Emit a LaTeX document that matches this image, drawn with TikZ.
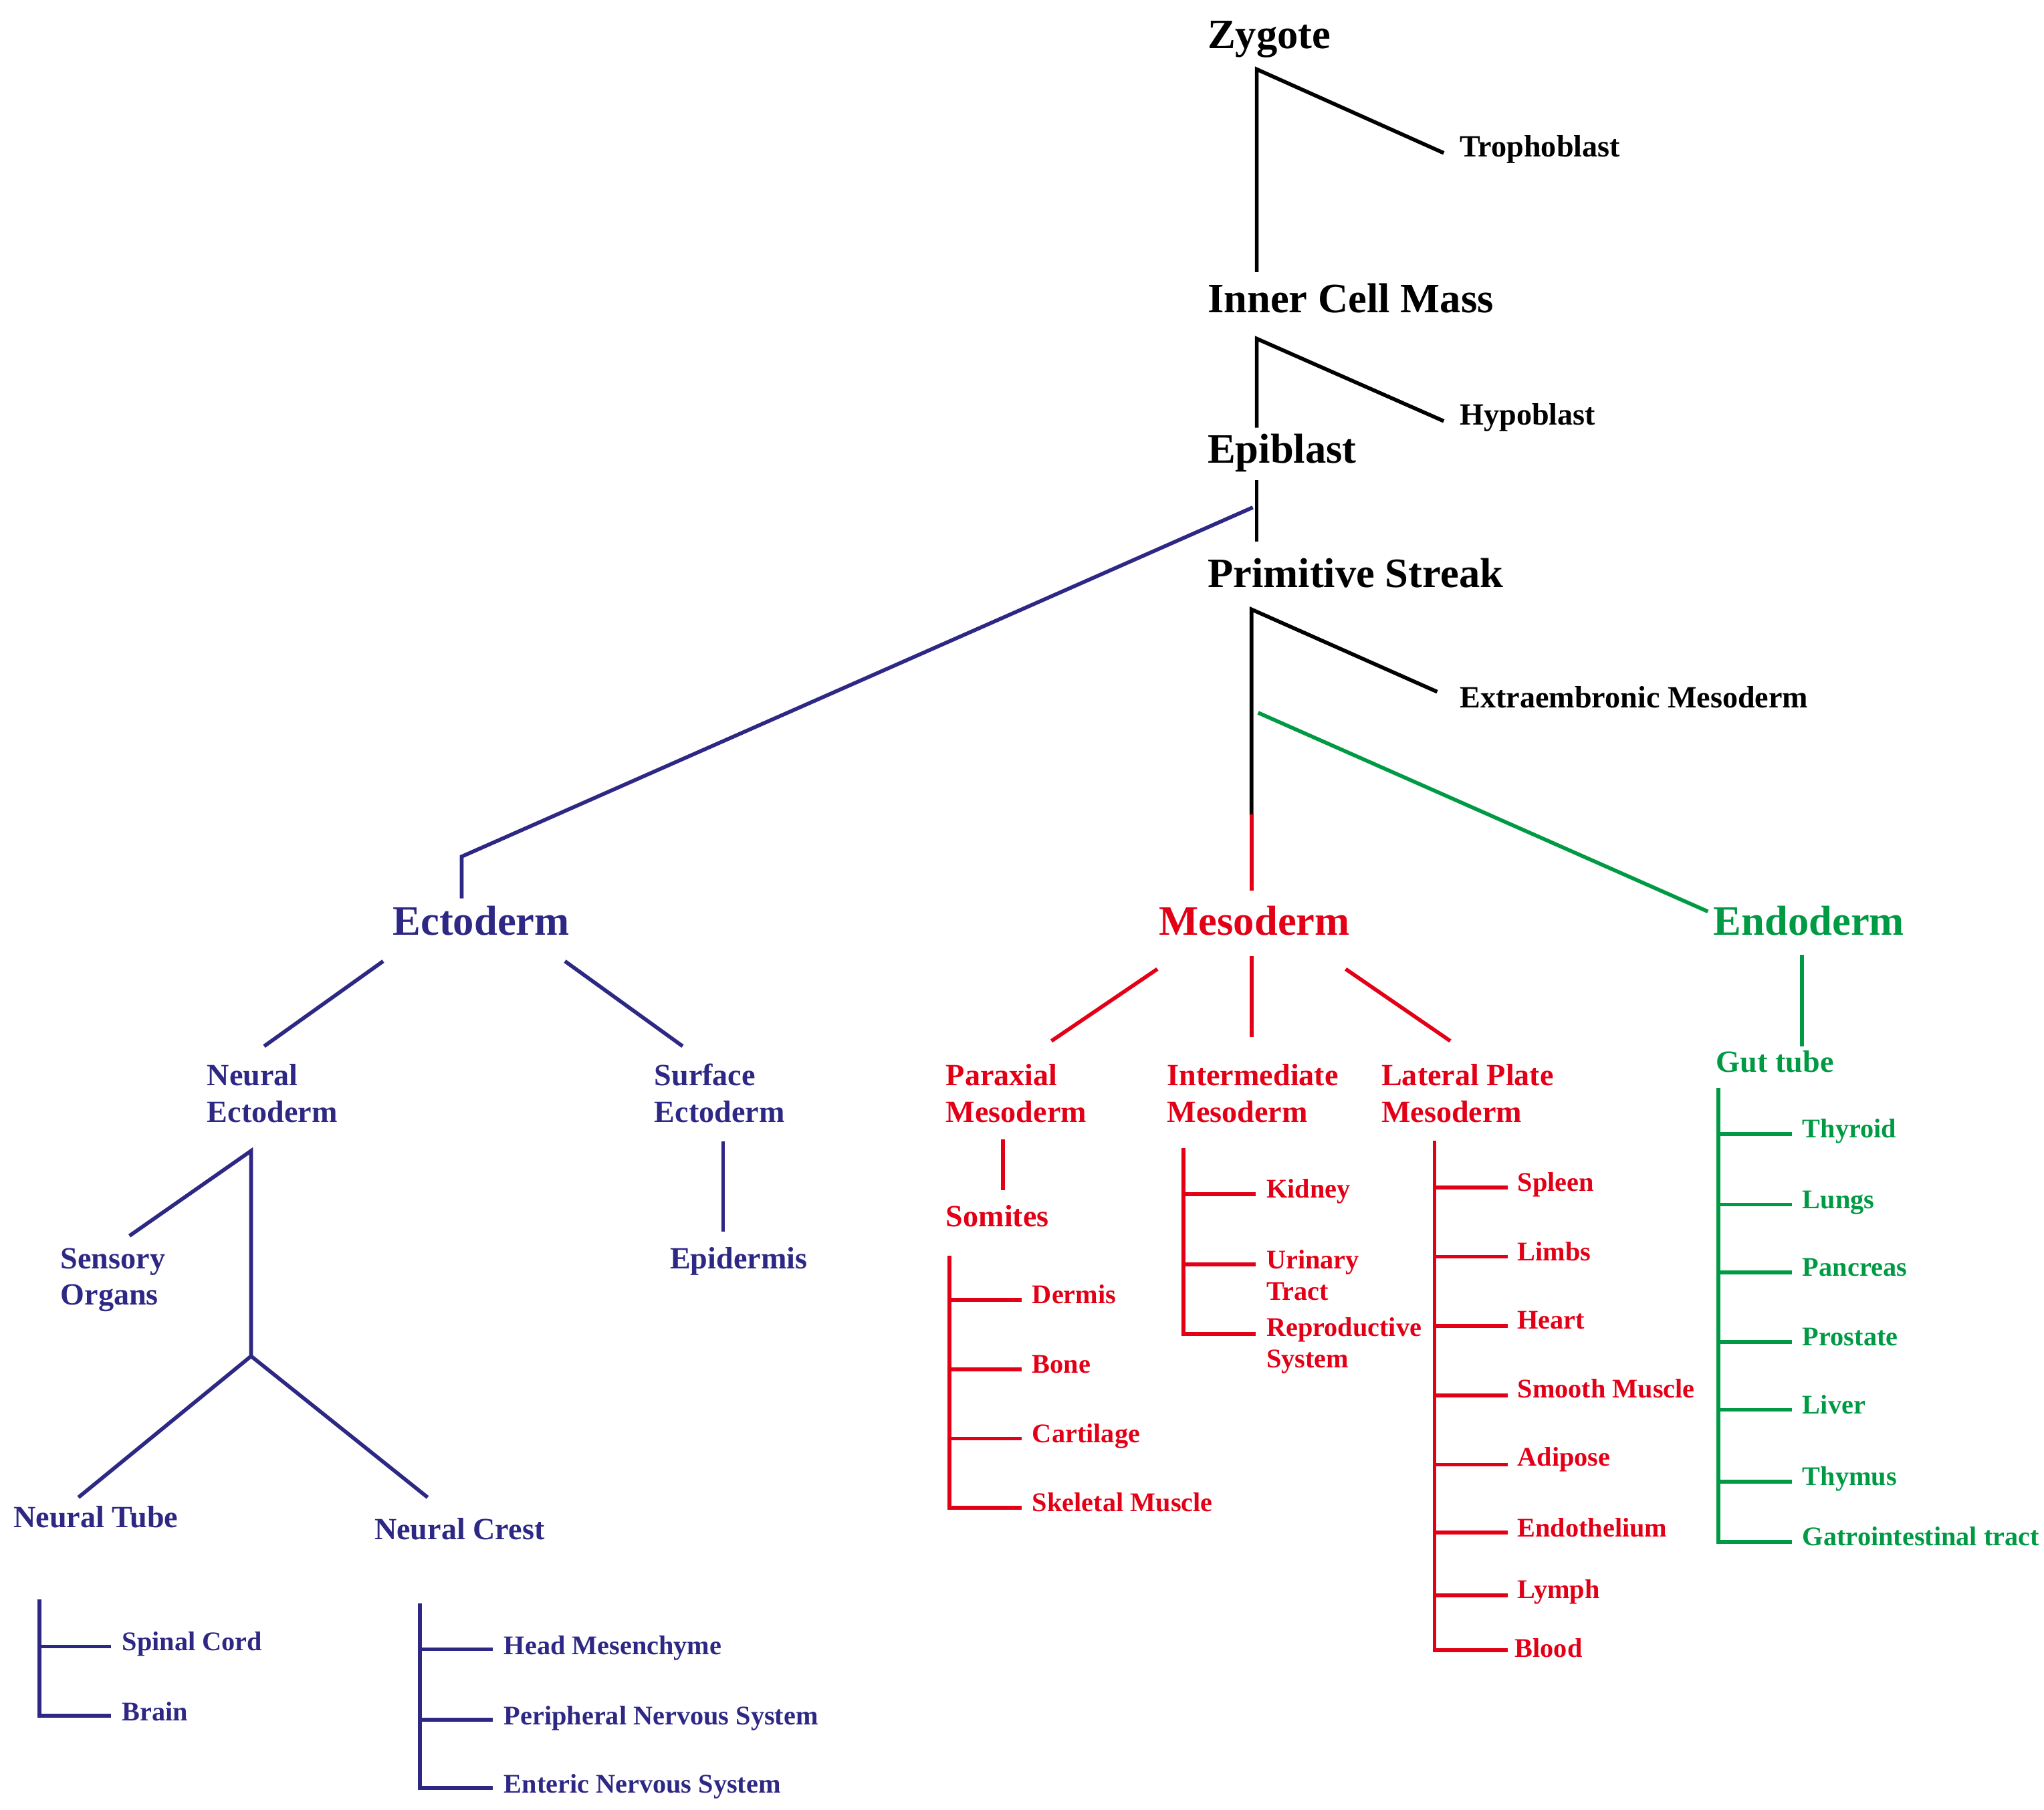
\documentclass[tikz,border=0pt]{standalone}
\usepackage{fontspec}
\setmainfont{Liberation Serif}
\definecolor{ecto}{RGB}{46,40,133}
\definecolor{meso}{RGB}{227,0,22}
\definecolor{endo}{RGB}{0,154,68}
\tikzset{
  lbl/.style={inner sep=0pt, anchor=base west, align=left, yshift=1.5pt, font=\bfseries},
  big/.style={lbl, xshift=-1pt, font=\fontsize{16}{18}\selectfont\bfseries},
  mid/.style={lbl, xshift=-0.5pt, font=\fontsize{11.8}{14}\selectfont\bfseries},
  sml/.style={lbl, font=\fontsize{10.3}{12}\selectfont\bfseries},
  ln/.style={line width=1.45pt},
}
\begin{document}
\begin{tikzpicture}[x=0.5pt,y=-0.5pt]
\useasboundingbox (0,0) rectangle (1563,1384);
% ---------- top (black) ----------
\node[big] (zyg) at (925,40) {Zygote};
\node[mid] (tro) at (1117,123) {Trophoblast};
\node[big] (icm) at (925,242) {Inner Cell Mass};
\node[mid] (hyp) at (1117,328) {Hypoblast};
\node[big] (epi) at (925,357) {Epiblast};
\node[big] (ps) at (925,452) {Primitive Streak};
\node[mid] (exm) at (1117,544) {Extraembronic Mesoderm};
\coordinate (z0) at (961,53);
\coordinate (z1) at (961,208);
\coordinate (zt) at (1104,117);
\coordinate (i0) at (961,259);
\coordinate (i1) at (961,327);
\coordinate (ih) at (1104,322);
\coordinate (e0) at (961,367);
\coordinate (e1) at (961,414);
\coordinate (eb) at (958,388);
\coordinate (p0) at (957,466);
\coordinate (pr) at (957,623);
\coordinate (p1) at (957,681);
\coordinate (px) at (1099,529);
\coordinate (pg) at (962,545);
\draw[ln] (zt) -- (z0) -- (z1);
\draw[ln] (ih) -- (i0) -- (i1);
\draw[ln] (e0) -- (e1);
\draw[ln] (px) -- (p0) -- (pr);
% ---------- Ectoderm ----------
\begin{scope}[ecto]
\node[big] (ect) at (302,718) {Ectoderm};
\node[mid] (nec) at (159,861) {Neural\\Ectoderm};
\node[mid] (sec) at (501,861) {Surface\\Ectoderm};
\node[mid] (epd) at (513,973) {Epidermis};
\node[mid] (sen) at (47,1001) {Sensory\\Organs};
\node[mid] (ntu) at (11,1171) {Neural Tube};
\node[mid] (ncr) at (287,1180) {Neural Crest};
\node[sml] (spc) at (93,1265) {Spinal Cord};
\node[sml] (brn) at (93,1319) {Brain};
\node[sml] (hme) at (385,1268) {Head Mesenchyme};
\node[sml] (pns) at (385,1322) {Peripheral Nervous System};
\node[sml] (ens) at (385,1374) {Enteric Nervous System};
\coordinate (ec0) at (353,655);
\coordinate (ec1) at (353,687);
\coordinate (ecl) at (293,735);
\coordinate (ecr) at (432,735);
\coordinate (nel) at (202,800);
\coordinate (ser) at (522,800);
\coordinate (se0) at (553,873);
\coordinate (se1) at (553,942);
\coordinate (ne0) at (192,880);
\coordinate (ne1) at (192,1037);
\coordinate (so0) at (99,945);
\coordinate (nt0) at (60,1145);
\coordinate (nc0) at (327,1145);
\coordinate (tb0) at (30,1223);
\coordinate (tb1) at (30,1259);
\coordinate (tb2) at (30,1312);
\coordinate (cb0) at (321,1226);
\coordinate (cb1) at (321,1261);
\coordinate (cb2) at (321,1315);
\coordinate (cb3) at (321,1367);
\draw[ln] (eb) -- (ec0) -- (ec1);
\draw[ln] (ecl) -- (nel);
\draw[ln] (ecr) -- (ser);
\draw[ln] (se0) -- (se1);
\draw[ln] (so0) -- (ne0) -- (ne1);
\draw[ln] (nt0) -- (ne1) -- (nc0);
\draw[ln] (tb0) -- (tb2) -- (85,1312);
\draw[ln] (tb1) -- (85,1259);
\draw[ln] (cb0) -- (cb3) -- (377,1367);
\draw[ln] (cb1) -- (377,1261);
\draw[ln] (cb2) -- (377,1315);
\end{scope}
% ---------- Mesoderm ----------
\begin{scope}[meso]
\node[big] (mes) at (888,718) {Mesoderm};
\node[mid] (par) at (724,861) {Paraxial\\Mesoderm};
\node[mid] (int) at (893,861) {Intermediate\\Mesoderm};
\node[mid] (lat) at (1057,861) {Lateral Plate\\Mesoderm};
\node[mid] (som) at (724,941) {Somites};
\node[sml] (der) at (789,1000) {Dermis};
\node[sml] (bon) at (789,1053) {Bone};
\node[sml] (car) at (789,1106) {Cartilage};
\node[sml] (skm) at (789,1159) {Skeletal Muscle};
\node[sml] (kid) at (968,919) {Kidney};
\node[sml] (uri) at (968,997) {Urinary\\Tract};
\node[sml] (rep) at (968,1049) {Reproductive\\System};
\node[sml] (spl) at (1160,914) {Spleen};
\node[sml] (lim) at (1160,967) {Limbs};
\node[sml] (hea) at (1160,1019) {Heart};
\node[sml] (smm) at (1160,1072) {Smooth Muscle};
\node[sml] (adi) at (1160,1124) {Adipose};
\node[sml] (end) at (1160,1178) {Endothelium};
\node[sml] (lym) at (1160,1225) {Lymph};
\node[sml] (blo) at (1158,1270) {Blood};
\draw[ln] (pr) -- (p1);
\draw[ln] (885,741) -- (804,796);
\draw[ln] (957,731) -- (957,793);
\draw[ln] (1029,741) -- (1109,796);
\draw[ln] (767,871) -- (767,910);
\draw[ln] (726,960) -- (726,1153) -- (781,1153);
\foreach \y in {994,1047,1100} \draw[ln] (726,\y) -- (781,\y);
\draw[ln] (905,878) -- (905,1020) -- (960,1020);
\foreach \y in {913,967} \draw[ln] (905,\y) -- (960,\y);
\draw[ln] (1097,872) -- (1097,1262) -- (1153,1262);
\foreach \y in {908,961,1014,1067,1120,1172,1220} \draw[ln] (1097,\y) -- (1153,\y);
\end{scope}
% ---------- Endoderm ----------
\begin{scope}[endo]
\node[big] (edo) at (1312,718) {Endoderm};
\node[mid] (gut) at (1313,823) {Gut tube};
\node[sml] (thy) at (1378,873) {Thyroid};
\node[sml] (lun) at (1378,927) {Lungs};
\node[sml] (pan) at (1378,979) {Pancreas};
\node[sml] (pro) at (1378,1032) {Prostate};
\node[sml] (liv) at (1378,1084) {Liver};
\node[sml] (thm) at (1378,1139) {Thymus};
\node[sml] (git) at (1378,1185) {Gatrointestinal tract};
\draw[ln] (pg) -- (1306,697);
\draw[ln] (1378,730) -- (1378,800);
\draw[ln] (1314,832) -- (1314,1179) -- (1370,1179);
\foreach \y in {867,921,973,1026,1078,1133} \draw[ln] (1314,\y) -- (1370,\y);
\end{scope}
\end{tikzpicture}
\end{document}
